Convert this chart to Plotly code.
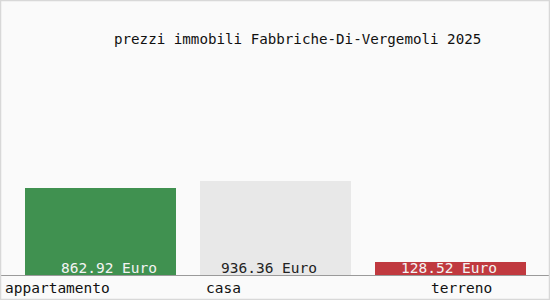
import plotly.graph_objects as go

categories = ["appartamento", "casa", "terreno"]
values = [862.92, 936.36, 128.52]
value_labels = ["862.92 Euro", "936.36 Euro", "128.52 Euro"]
bar_colors = ["#409150", "#e8e8e8", "#c0393f"]
text_colors = ["#f4f4f4", "#222222", "#f4f4f4"]
title = "prezzi immobili Fabbriche-Di-Vergemoli 2025"

W, H = 550, 300
ML, MR, MT, MB = 13, 12, 25, 25
FONT = "DejaVu Sans Mono"
FS = 14.5

fig = go.Figure()
fig.add_trace(go.Bar(
    x=list(range(len(categories))), y=values,
    marker=dict(color=bar_colors, line=dict(width=0)),
    width=151 / 175, hoverinfo="skip",
))

pw = W - ML - MR
ph = H - MT - MB
def px_x(p):
    return (p - ML) / pw
def px_y(p):
    return (H - MB - p) / ph

# value labels (centres in pixels)
val_cx = [109, 269, 449]
for cx, lab, col in zip(val_cx, value_labels, text_colors):
    fig.add_annotation(x=px_x(cx), y=px_y(268), xref="paper", yref="paper",
                       text=lab, showarrow=False, xanchor="center", yanchor="middle",
                       font=dict(family=FONT, size=FS, color=col))

# category labels
cat_pos = [(3, "left"), (204, "left"), (461, "center")]
for (px, anc), lab in zip(cat_pos, categories):
    fig.add_annotation(x=px_x(px), y=px_y(288), xref="paper", yref="paper",
                       text=lab, showarrow=False, xanchor=anc, yanchor="middle",
                       font=dict(family=FONT, size=FS, color="#111111"))

# title
fig.add_annotation(x=px_x(297.5), y=px_y(39), xref="paper", yref="paper",
                   text=title, showarrow=False, xanchor="center", yanchor="middle",
                   font=dict(family=FONT, size=14.2, color="#111111"))

# baseline
fig.add_shape(type="line", xref="paper", yref="paper",
              x0=px_x(0), x1=px_x(W), y0=px_y(275.5), y1=px_y(275.5),
              line=dict(color="#9a9a9a", width=1))
# border
fig.add_shape(type="rect", xref="paper", yref="paper",
              x0=px_x(0.5), x1=px_x(W - 0.5), y0=px_y(H - 0.5), y1=px_y(0.5),
              line=dict(color="#d8d8d8", width=1.5))

fig.update_layout(
    width=W, height=H,
    margin=dict(l=ML, r=MR, t=MT, b=MB, pad=0),
    paper_bgcolor="#fafafa", plot_bgcolor="#fafafa",
    showlegend=False,
    xaxis=dict(range=[-0.5, 2.5], visible=False, fixedrange=True),
    yaxis=dict(range=[0, ph / 0.1004], visible=False, fixedrange=True),
    bargap=0,
)

fig.write_html("out.html", config={"displayModeBar": False})
